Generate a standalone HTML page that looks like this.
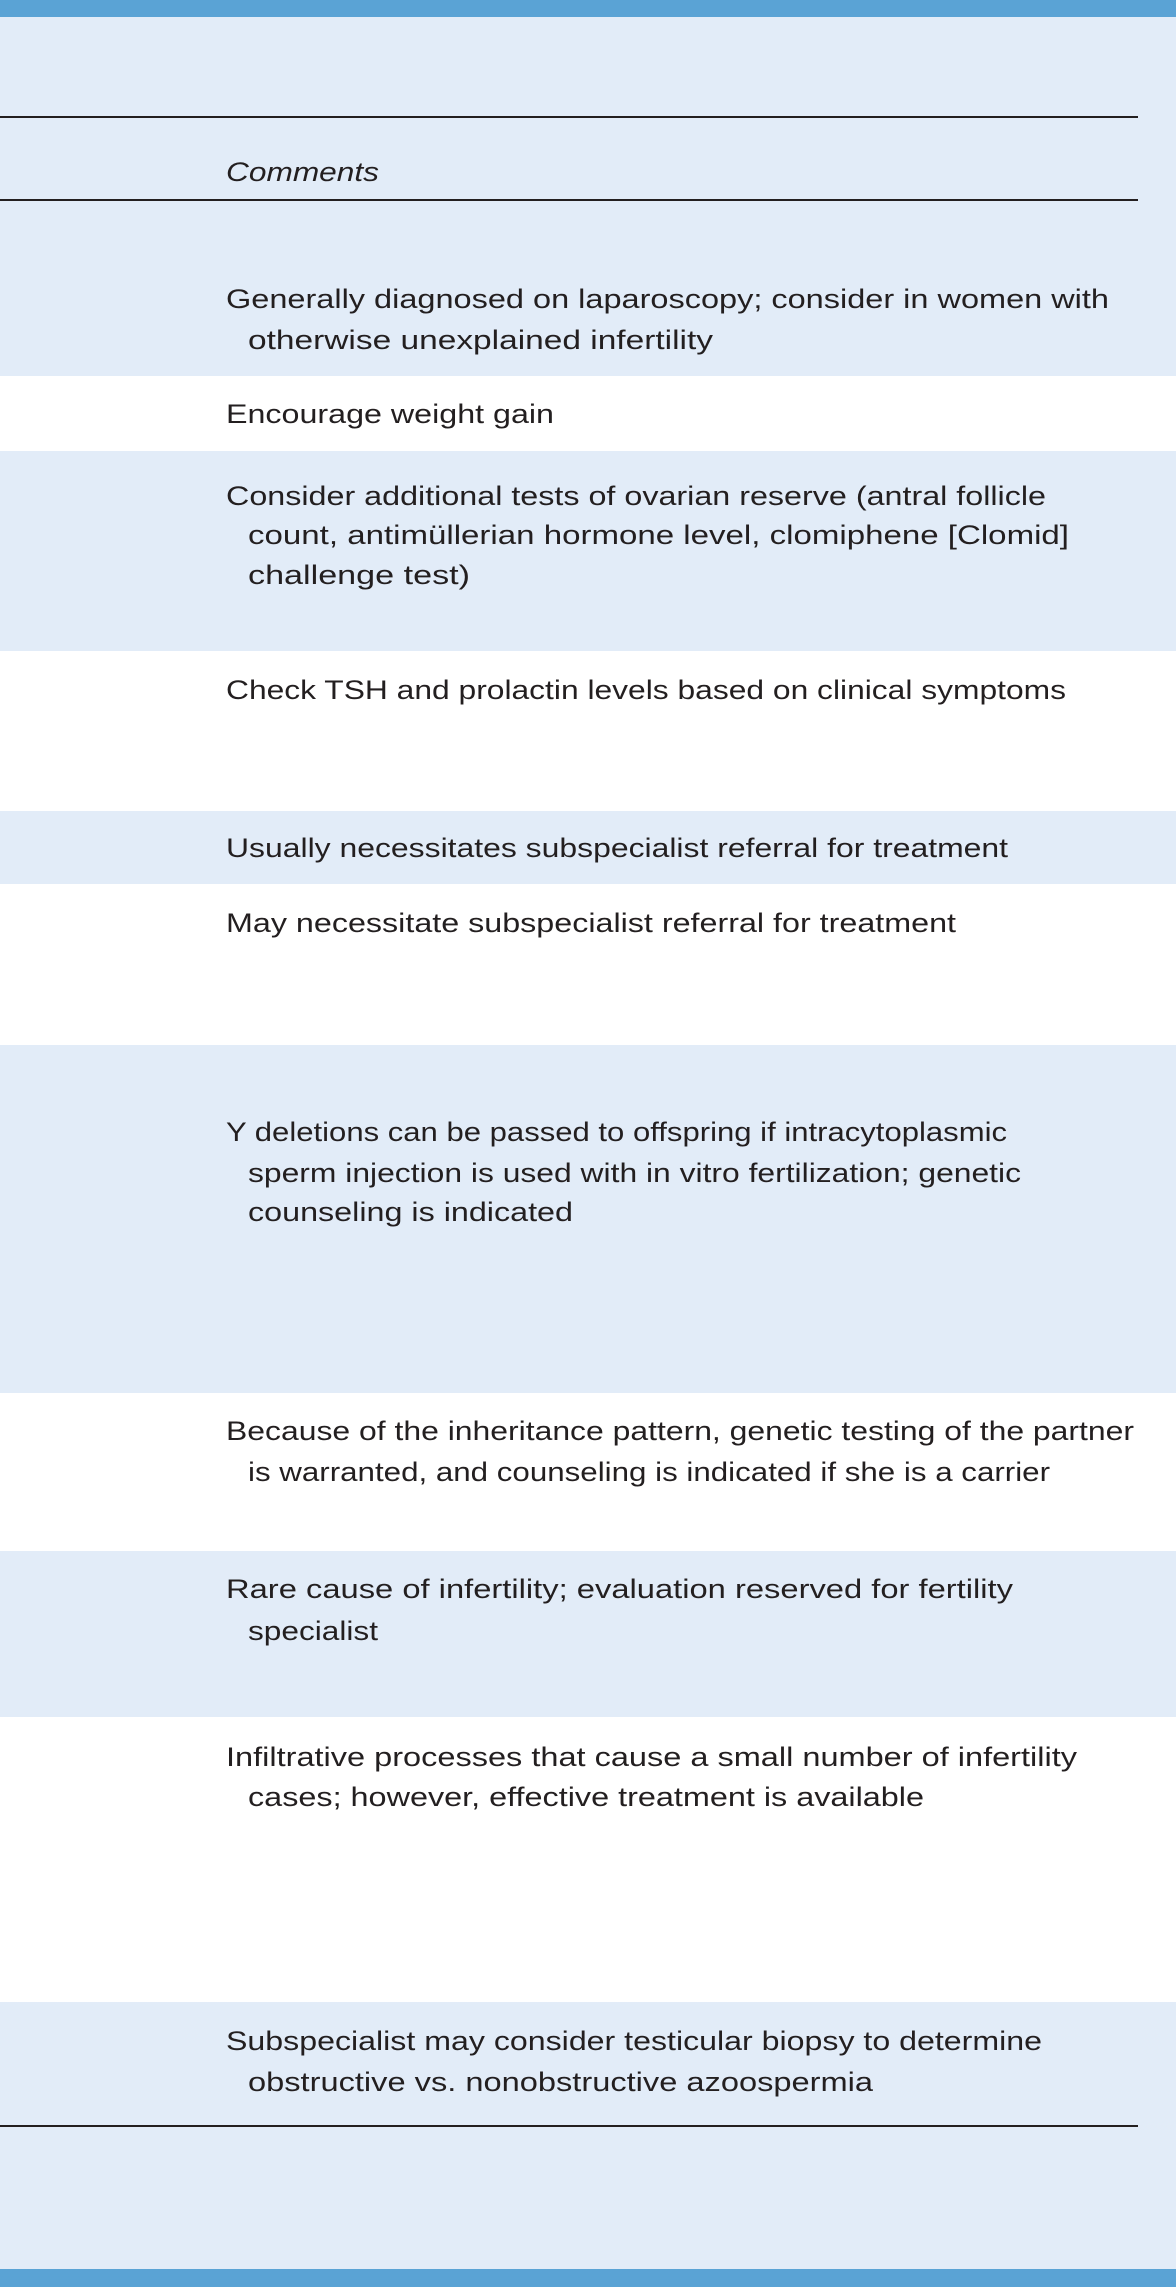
<!DOCTYPE html>
<html><head><meta charset="utf-8"><style>
html,body{margin:0;padding:0;background:#fff}
svg{display:block}
text{font-family:"Liberation Sans",sans-serif;font-size:27px;fill:#231f20}
</style></head><body>
<svg width="1176" height="2287" viewBox="0 0 1176 2287" xmlns="http://www.w3.org/2000/svg">
<rect x="0" y="0" width="1176" height="2287" fill="#fff"/>
<rect x="0" y="17" width="1176" height="359" fill="#e2ecf8"/>
<rect x="0" y="451" width="1176" height="200" fill="#e2ecf8"/>
<rect x="0" y="811" width="1176" height="73" fill="#e2ecf8"/>
<rect x="0" y="1045" width="1176" height="348" fill="#e2ecf8"/>
<rect x="0" y="1551" width="1176" height="166" fill="#e2ecf8"/>
<rect x="0" y="2002" width="1176" height="267" fill="#e2ecf8"/>
<rect x="0" y="0" width="1176" height="17" fill="#5aa3d5"/>
<rect x="0" y="2269" width="1176" height="18" fill="#5aa3d5"/>
<rect x="0" y="116" width="1138" height="2" fill="#231f20"/>
<rect x="0" y="199" width="1138" height="2" fill="#231f20"/>
<rect x="0" y="2125" width="1138" height="2" fill="#231f20"/>
<g lengthAdjust="spacingAndGlyphs">
<text x="226" y="181" textLength="153" lengthAdjust="spacingAndGlyphs" font-style="italic">Comments</text>
<text x="226" y="308" textLength="883" lengthAdjust="spacingAndGlyphs">Generally diagnosed on laparoscopy; consider in women with</text>
<text x="248" y="349" textLength="465" lengthAdjust="spacingAndGlyphs">otherwise unexplained infertility</text>
<text x="226" y="423" textLength="328" lengthAdjust="spacingAndGlyphs">Encourage weight gain</text>
<text x="226" y="505" textLength="820" lengthAdjust="spacingAndGlyphs">Consider additional tests of ovarian reserve (antral follicle</text>
<text x="248" y="544" textLength="821" lengthAdjust="spacingAndGlyphs">count, antimüllerian hormone level, clomiphene [Clomid]</text>
<text x="248" y="584" textLength="222" lengthAdjust="spacingAndGlyphs">challenge test)</text>
<text x="226" y="699" textLength="840" lengthAdjust="spacingAndGlyphs">Check TSH and prolactin levels based on clinical symptoms</text>
<text x="226" y="857" textLength="782" lengthAdjust="spacingAndGlyphs">Usually necessitates subspecialist referral for treatment</text>
<text x="226" y="932" textLength="730" lengthAdjust="spacingAndGlyphs">May necessitate subspecialist referral for treatment</text>
<text x="226" y="1141" textLength="781" lengthAdjust="spacingAndGlyphs">Y deletions can be passed to offspring if intracytoplasmic</text>
<text x="248" y="1182" textLength="773" lengthAdjust="spacingAndGlyphs">sperm injection is used with in vitro fertilization; genetic</text>
<text x="248" y="1221" textLength="325" lengthAdjust="spacingAndGlyphs">counseling is indicated</text>
<text x="226" y="1440" textLength="908" lengthAdjust="spacingAndGlyphs">Because of the inheritance pattern, genetic testing of the partner</text>
<text x="248" y="1481" textLength="802" lengthAdjust="spacingAndGlyphs">is warranted, and counseling is indicated if she is a carrier</text>
<text x="226" y="1598" textLength="787" lengthAdjust="spacingAndGlyphs">Rare cause of infertility; evaluation reserved for fertility</text>
<text x="248" y="1640" textLength="130" lengthAdjust="spacingAndGlyphs">specialist</text>
<text x="226" y="1766" textLength="851" lengthAdjust="spacingAndGlyphs">Infiltrative processes that cause a small number of infertility</text>
<text x="248" y="1806" textLength="676" lengthAdjust="spacingAndGlyphs">cases; however, effective treatment is available</text>
<text x="226" y="2050" textLength="816" lengthAdjust="spacingAndGlyphs">Subspecialist may consider testicular biopsy to determine</text>
<text x="248" y="2091" textLength="625" lengthAdjust="spacingAndGlyphs">obstructive vs. nonobstructive azoospermia</text>
</g>
</svg>
</body></html>
